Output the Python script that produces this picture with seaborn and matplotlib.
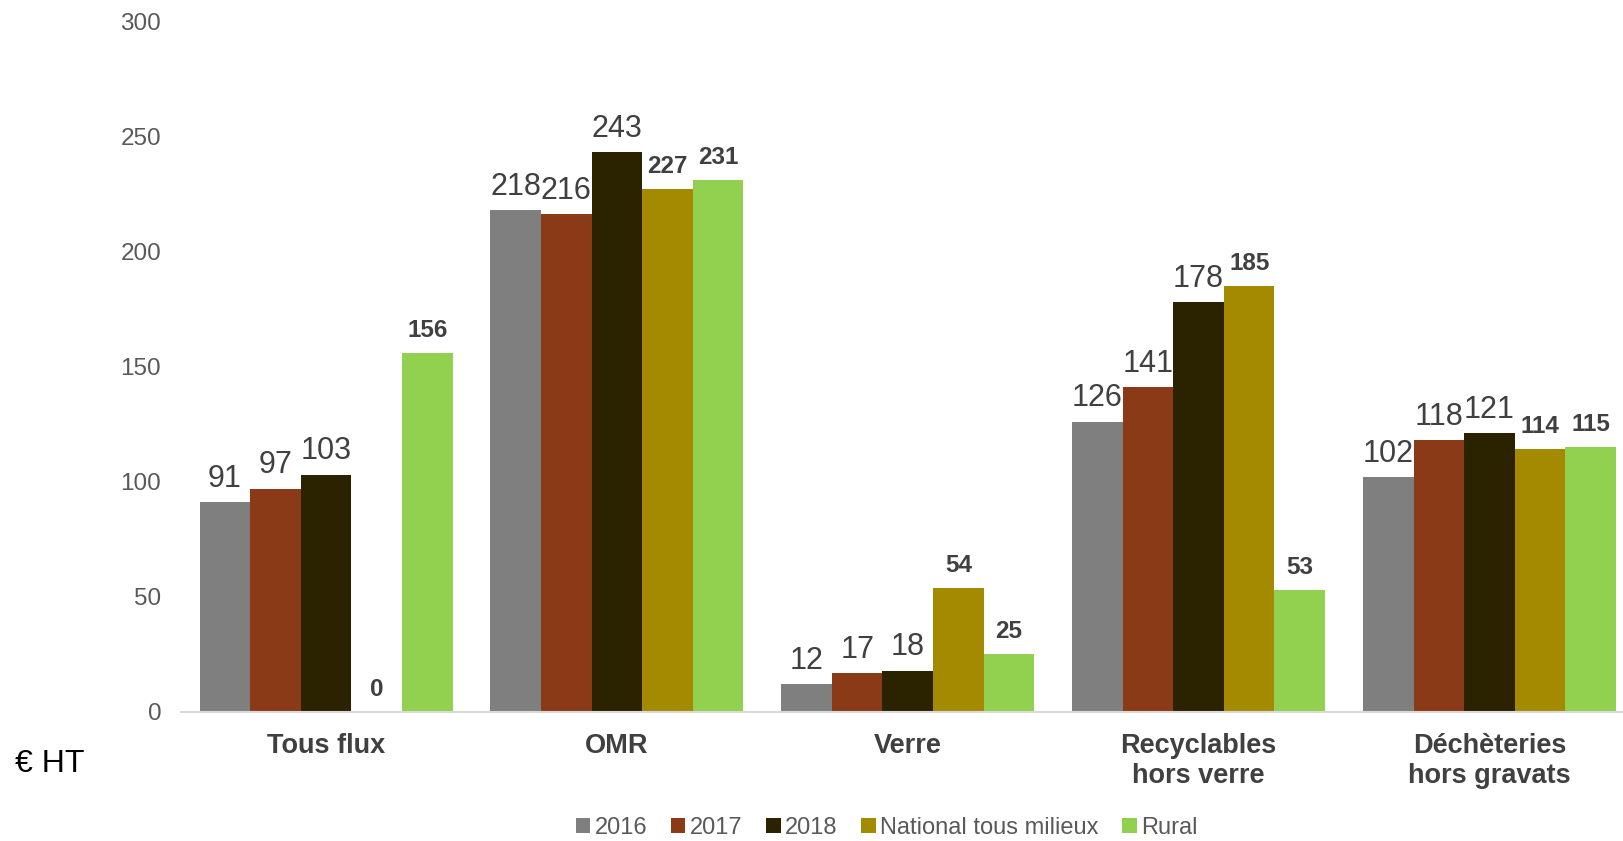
import pandas as pd
import seaborn as sns
import matplotlib.pyplot as plt

categories = ['Tous flux', 'OMR', 'Verre', 'Recyclables\nhors verre', 'Déchèteries\nhors gravats']
series = ['2016', '2017', '2018', 'National tous milieux', 'Rural']
v2016 = [91, 218, 12, 126, 102]
v2017 = [97, 216, 17, 141, 118]
v2018 = [103, 243, 18, 178, 121]
national = [0, 227, 54, 185, 114]
rural = [156, 231, 25, 53, 115]
colors = ['#7f7f7f', '#8b3a17', '#2b2200', '#a38a00', '#92d050']

rows = []
for s, vals in zip(series, [v2016, v2017, v2018, national, rural]):
    for c, v in zip(categories, vals):
        rows.append({'cat': c, 'val': v, 'serie': s})
df = pd.DataFrame(rows)

sns.set_style('white')
plt.rcParams['font.family'] = ['Liberation Sans', 'DejaVu Sans']

fig = plt.figure(figsize=(16.23, 8.41), dpi=100)
ax = fig.add_axes([0.1113, 0.1534, 0.896, 0.8216])

sns.barplot(data=df, x='cat', y='val', hue='serie', palette=colors,
            width=0.87, gap=0, saturation=1, linewidth=0, ax=ax, legend=True)

for i, cont in enumerate(ax.containers):
    if i < 3:
        ax.bar_label(cont, padding=6, fontsize=22, color='#404040')
    else:
        ax.bar_label(cont, padding=8, fontsize=17.5, fontweight='bold', color='#404040')

ax.set_xlim(-0.5, 4.5)
ax.set_ylim(0, 300)
ax.set_yticks(range(0, 301, 50))
ax.set_xlabel('')
ax.set_ylabel('')
for sp in ['top', 'right', 'left']:
    ax.spines[sp].set_visible(False)
ax.spines['bottom'].set_color('#d9d9d9')
ax.spines['bottom'].set_linewidth(1.5)
ax.tick_params(axis='y', length=0, labelsize=17.5, labelcolor='#595959', pad=14)
ax.tick_params(axis='x', length=0, labelsize=19.5, labelcolor='#404040', pad=15)
for lab in ax.get_xticklabels():
    lab.set_fontweight('bold')
    lab.set_linespacing(1.2)

fig.text(0.009, 0.092, '€ HT', fontsize=23, color='#000000', va='center')

handles, labels = ax.get_legend_handles_labels()
ax.legend_.remove()
fig.legend(handles, labels, loc='center', bbox_to_anchor=(0.5465, 0.016), ncol=5,
           frameon=False, fontsize=17, handlelength=0.6, handleheight=0.6,
           handletextpad=0.2, columnspacing=1.0, labelcolor='#595959')

fig.savefig('out.png', dpi=100)
